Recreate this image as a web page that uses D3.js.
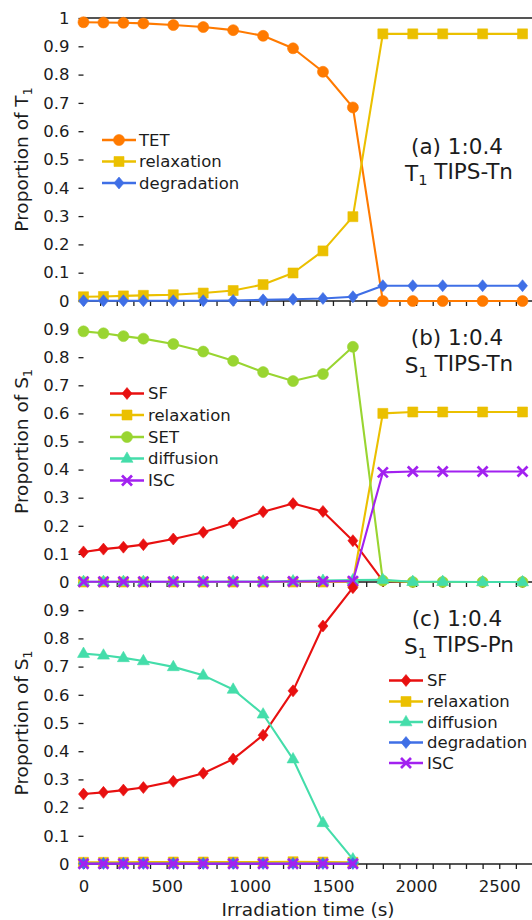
<!DOCTYPE html>
<html>
<head>
<meta charset="utf-8">
<script src="https://cdn.jsdelivr.net/npm/d3@7"></script>
<style>
  html, body { margin: 0; padding: 0; background: #fff; }
  svg { display: block; font-family: "DejaVu Sans", sans-serif; }
</style>
</head>
<body>
<svg id="chart" width="532" height="920"></svg>
<script>
// ---------- data ----------
const times  = [0,120,240,360,540,720,900,1080,1260,1440,1620,1800,1980,2160,2400,2640];
const timesC = [0,120,240,360,540,720,900,1080,1260,1440,1620];

// panel (a)  T1 TIPS-Tn
const tetA   = [0.985,0.984,0.983,0.981,0.975,0.968,0.957,0.937,0.893,0.810,0.684,0,0,0,0,0];
const relaxA = [0.015,0.016,0.018,0.020,0.022,0.028,0.037,0.058,0.099,0.177,0.298,0.944,0.944,0.944,0.944,0.944];
const degA   = [0.001,0.001,0.001,0.001,0.001,0.001,0.002,0.004,0.006,0.009,0.015,0.054,0.054,0.054,0.054,0.054];

// panel (b)  S1 TIPS-Tn
const sfB    = [0.107,0.117,0.124,0.133,0.153,0.177,0.210,0.250,0.279,0.251,0.147,0.004,0,0,0,0];
const relaxB = [0,0,0,0,0,0,0,0,0,0,0,0.600,0.605,0.605,0.605,0.605];
const setB   = [0.892,0.885,0.875,0.866,0.847,0.820,0.787,0.747,0.715,0.740,0.837,0.005,0,0,0,0];
const diffB  = [0.001,0.001,0.001,0.001,0.001,0.001,0.002,0.002,0.003,0.005,0.007,0.008,0.001,0.001,0,0];
const iscB   = [0.001,0.001,0.001,0.001,0.001,0.001,0.001,0.001,0.002,0.002,0.003,0.390,0.393,0.393,0.393,0.393];

// panel (c)  S1 TIPS-Pn
const sfC    = [0.248,0.254,0.262,0.271,0.293,0.322,0.372,0.457,0.614,0.844,0.980];
const relaxC = [0.006,0.006,0.006,0.007,0.007,0.007,0.007,0.007,0.008,0.007,0.006];
const diffC  = [0.746,0.740,0.731,0.720,0.699,0.669,0.619,0.531,0.372,0.146,0.017];
const degC   = [0.002,0.002,0.002,0.002,0.002,0.002,0.002,0.002,0.002,0.002,0.002];
const iscC   = [0.001,0.001,0.001,0.001,0.001,0.001,0.001,0.001,0.001,0.001,0.001];

const xTickLabels = [0,500,1000,1500,2000,2500];
const yTicksA = [0,0.1,0.2,0.3,0.4,0.5,0.6,0.7,0.8,0.9,1];
const yTicksBC = [0,0.1,0.2,0.3,0.4,0.5,0.6,0.7,0.8,0.9];

// ---------- styles ----------
const C = {
  tet: "#FF7A00", relax: "#EBC000", deg: "#3F6FE6",
  sf: "#E81010", set: "#99D531", diff: "#44DDAA", isc: "#A221F0"
};
const ink = "#1c1c1c";
const fontTick = 16.5, fontLegend = 16.5, fontAnno = 21.5, fontTitle = 18.5;

const svg = d3.select("#chart");
const X0 = 83.5, X1 = 532.5;
const x = d3.scaleLinear().domain([0, 2700]).range([X0, X1]);

const panelsGeom = [
  {top: 18,  bottom: 301},
  {top: 301, bottom: 582},
  {top: 582, bottom: 864}
];

function markerPath(type) {
  switch (type) {
    case "circle":   return d3.symbol(d3.symbolCircle, 95)();
    case "square":   return "M-5,-5h10v10h-10Z";
    case "diamond":  return "M0,-6L5,0L0,6L-5,0Z";
    case "triangle": return "M0,-6.6L6,3.8L-6,3.8Z";
    case "x":        return "M-5,-5L5,5M5,-5L-5,5";
  }
}
function drawMarker(g, type, color, px, py) {
  const p = g.append("path").attr("d", markerPath(type))
    .attr("transform", `translate(${px},${py})`);
  if (type === "x") p.attr("fill", "none").attr("stroke", color).attr("stroke-width", 2.7);
  else p.attr("fill", color).attr("stroke", color).attr("stroke-width", 0.6);
}

const panels = [
  {
    ts: times, ticks: yTicksA, label: "T", anno1: "(a) 1:0.4", anno2a: "T", anno2b: " TIPS-Tn",
    annoY: [154, 181],
    series: [
      {name: "TET", v: tetA, c: C.tet, m: "circle"},
      {name: "relaxation", v: relaxA, c: C.relax, m: "square"},
      {name: "degradation", v: degA, c: C.deg, m: "diamond"}
    ],
    legend: {x1: 102, x2: 136, tx: 139, ys: [140, 161.5, 183]}
  },
  {
    ts: times, ticks: yTicksBC, label: "S", anno1: "(b) 1:0.4", anno2a: "S", anno2b: " TIPS-Tn",
    annoY: [345, 373],
    series: [
      {name: "SF", v: sfB, c: C.sf, m: "diamond"},
      {name: "relaxation", v: relaxB, c: C.relax, m: "square"},
      {name: "SET", v: setB, c: C.set, m: "circle"},
      {name: "diffusion", v: diffB, c: C.diff, m: "triangle"},
      {name: "ISC", v: iscB, c: C.isc, m: "x"}
    ],
    legend: {x1: 110, x2: 144, tx: 148, ys: [393.5, 415, 437, 458.5, 480.5]}
  },
  {
    ts: timesC, ticks: yTicksBC, label: "S", anno1: "(c) 1:0.4", anno2a: "S", anno2b: " TIPS-Pn",
    annoY: [626, 654],
    series: [
      {name: "SF", v: sfC, c: C.sf, m: "diamond"},
      {name: "relaxation", v: relaxC, c: C.relax, m: "square"},
      {name: "diffusion", v: diffC, c: C.diff, m: "triangle"},
      {name: "degradation", v: degC, c: C.deg, m: "diamond"},
      {name: "ISC", v: iscC, c: C.isc, m: "x"}
    ],
    legend: {x1: 389, x2: 423, tx: 427, ys: [680.5, 701.5, 722, 742.5, 763]}
  }
];

const yFmt = d => d === 0 ? "0" : d === 1 ? "1" : d3.format(".1f")(d);

panels.forEach((P, i) => {
  const G = panelsGeom[i];
  const y = d3.scaleLinear().domain([0, 1]).range([G.bottom, G.top]);
  const g = svg.append("g");

  // y axis
  const ya = g.append("g").attr("transform", `translate(${X0},0)`)
    .call(d3.axisLeft(y).tickValues(P.ticks).tickFormat(yFmt).tickSize(5).tickPadding(9).tickSizeOuter(0));
  ya.select(".domain").remove();
  ya.selectAll("line").attr("stroke", ink).attr("stroke-width", 1.3);
  ya.selectAll("text").attr("font-size", fontTick).attr("fill", ink)
    .attr("font-family", "DejaVu Sans, sans-serif");

  // x axis (ticks every 100)
  const xa = g.append("g").attr("transform", `translate(0,${G.bottom})`)
    .call(d3.axisBottom(x).tickValues(d3.range(0, 2701, 100))
      .tickFormat(d => (i === 2 && xTickLabels.includes(d)) ? String(d) : "")
      .tickSize(5).tickPadding(11).tickSizeOuter(0));
  xa.select(".domain").remove();
  xa.selectAll("line").attr("stroke", ink).attr("stroke-width", 1.3);
  xa.selectAll("text").attr("font-size", fontTick).attr("fill", ink)
    .attr("font-family", "DejaVu Sans, sans-serif");

  // spines
  g.append("line").attr("x1", X0).attr("x2", X1).attr("y1", G.bottom).attr("y2", G.bottom)
    .attr("stroke", ink).attr("stroke-width", 1.6);
  if (i === 0) {
    g.append("line").attr("x1", X0).attr("x2", X1).attr("y1", G.top).attr("y2", G.top)
      .attr("stroke", ink).attr("stroke-width", 1.6);
  }

  // y label
  const yl = g.append("text")
    .attr("transform", `translate(22,${(G.top + G.bottom) / 2}) rotate(-90)`)
    .attr("text-anchor", "middle").attr("dy", "0.35em")
    .attr("font-size", fontTitle).attr("fill", ink);
  yl.append("tspan").text("Proportion of " + P.label);
  yl.append("tspan").text("1").attr("font-size", fontTitle * 0.68).attr("dy", "0.3em");

  // series
  const line = d3.line().x((d, k) => x(P.ts[k])).y(d => y(d));
  P.series.forEach(s => {
    g.append("path").datum(s.v).attr("d", line)
      .attr("fill", "none").attr("stroke", s.c).attr("stroke-width", 2.1)
      .attr("stroke-linejoin", "round");
    s.v.forEach((v, k) => drawMarker(g, s.m, s.c, x(P.ts[k]), y(v)));
  });

  // legend
  const L = P.legend;
  P.series.forEach((s, k) => {
    const ly = L.ys[k];
    g.append("line").attr("x1", L.x1).attr("x2", L.x2).attr("y1", ly).attr("y2", ly)
      .attr("stroke", s.c).attr("stroke-width", 2.3);
    drawMarker(g, s.m, s.c, (L.x1 + L.x2) / 2, ly);
    g.append("text").attr("x", L.tx).attr("y", ly).attr("dy", "0.36em")
      .attr("font-size", fontLegend).attr("fill", ink).text(s.name);
  });

  // annotation
  g.append("text").attr("x", 457).attr("y", P.annoY[0]).attr("text-anchor", "middle")
    .attr("font-size", fontAnno).attr("fill", ink).text(P.anno1);
  const a2 = g.append("text").attr("x", 459).attr("y", P.annoY[1]).attr("text-anchor", "middle")
    .attr("font-size", fontAnno).attr("fill", ink);
  a2.append("tspan").text(P.anno2a);
  a2.append("tspan").text("1").attr("font-size", fontAnno * 0.68).attr("dy", "0.3em");
  a2.append("tspan").text(P.anno2b).attr("dy", "-0.3em").attr("font-size", fontAnno);
});

// x title
svg.append("text").attr("x", (X0 + X1) / 2).attr("y", 916).attr("text-anchor", "middle")
  .attr("font-size", fontTitle).attr("fill", ink).text("Irradiation time (s)");
</script>
</body>
</html>
